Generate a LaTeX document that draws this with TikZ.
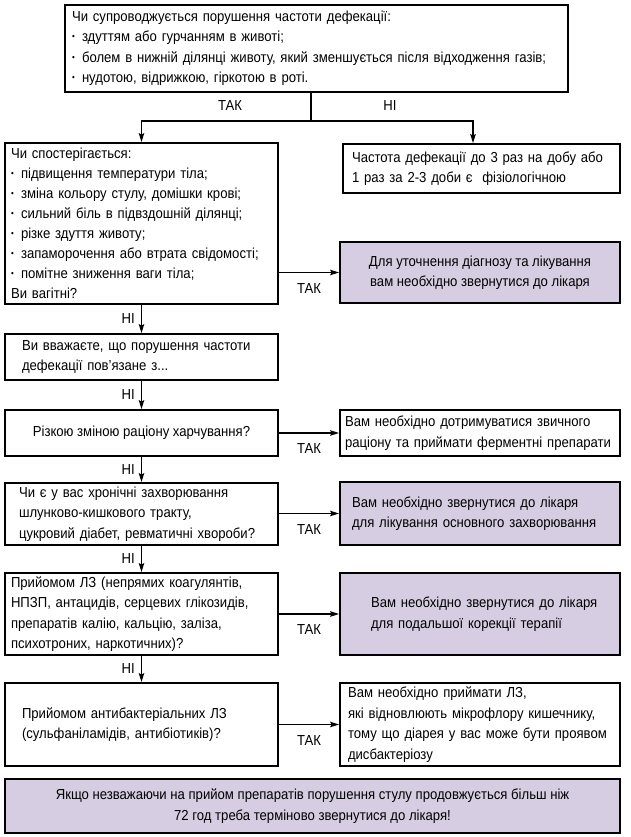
\documentclass[tikz,border=0pt]{standalone}
\usepackage{fontspec}
\setmainfont{Liberation Sans}[FakeStretch=0.905]
\usepackage{graphicx}
\usetikzlibrary{arrows.meta}
\definecolor{lil}{RGB}{214,205,226}
\newcommand\myfs{\fontsize{14.5}{20.5}\selectfont}
\newcommand\ml[1]{\mbox{#1}}
\newcommand\bul{\makebox[10pt][l]{\raisebox{0.15em}{\scalebox{0.6}{•}}}}
\begin{document}
\begin{tikzpicture}[x=1pt,y=-1pt,
 base/.style={draw=black, line width=1.8pt, inner sep=0pt, font=\myfs},
 wbox/.style={base, fill=white},
 pbox/.style={base, fill=lil},
 arr/.style={line width=1.3pt, -{Stealth[length=9pt,width=5.5pt,inset=1.5pt]}},
 ln/.style={line width=1.3pt},
 lab/.style={font=\myfs, inner sep=1pt}]
\useasboundingbox (0,0) rectangle (630,837);
\fill[white] (0,0) rectangle (630,837);

\node[wbox, minimum width=503pt, minimum height=87pt, text width=489pt, align=left] (T) at (316.5,48.5)
 {\ml{Чи супроводжується порушення частоти дефекації:}\\
  \ml{\bul здуттям або гурчанням в животі;}\\
  \ml{\bul болем в нижній ділянці животу, який зменшується після відходження газів;}\\
  \ml{\bul нудотою, відрижкою, гіркотою в роті.}};

\node[wbox, minimum width=273pt, minimum height=161pt, text width=261pt, align=left,
      font=\fontsize{14.5}{20}\selectfont] (L1) at (141.5,223.5)
 {\ml{Чи спостерігається:}\\
  \ml{\bul підвищення температури тіла;}\\
  \ml{\bul зміна кольору стулу, домішки крові;}\\
  \ml{\bul сильний біль в підвздошній ділянці;}\\
  \ml{\bul різке здуття животу;}\\
  \ml{\bul запаморочення або втрата свідомості;}\\
  \ml{\bul помітне зниження ваги тіла;}\\
  \ml{Ви вагітні?}};

\node[wbox, minimum width=277pt, minimum height=49pt, text width=259pt, align=left] (R1) at (481.5,168.5)
 {\ml{Частота дефекації до 3 раз на добу або}\\\ml{1 раз за 2-3 доби є\ \ фізіологічною}};

\node[pbox, minimum width=280pt, minimum height=61pt, align=center] (P1) at (480,272.5)
 {Для уточнення діагнозу та лікування\\вам необхідно звернутися до лікаря};

\node[wbox, minimum width=273pt, minimum height=46pt, text width=239pt, align=left] (L2) at (141.5,357)
 {\ml{Ви вважаєте, що порушення частоти}\\\ml{дефекації пов’язане з...}};

\node[wbox, minimum width=273pt, minimum height=46pt, align=center] (L3) at (141.5,433)
 {Різкою зміною раціону харчування?};

\node[wbox, minimum width=280pt, minimum height=46pt, text width=270pt, align=left] (R3) at (480,433)
 {\ml{Вам необхідно дотримуватися звичного}\\\ml{раціону та приймати ферментні препарати}};

\node[wbox, minimum width=273pt, minimum height=62pt, text width=245pt, align=left] (L4) at (141.5,514)
 {\ml{Чи є у вас хронічні захворювання}\\\ml{шлунково-кишкового тракту,}\\\ml{цукровий діабет, ревматичні хвороби?}};

\node[pbox, minimum width=280pt, minimum height=63pt, text width=256pt, align=left] (P4) at (480,513.5)
 {\ml{Вам необхідно звернутися до лікаря}\\\ml{для лікування основного захворювання}};

\node[wbox, minimum width=273pt, minimum height=82pt, text width=261pt, align=left] (L5) at (141.5,614)
 {\ml{Прийомом ЛЗ (непрямих коагулянтів,}\\\ml{НПЗП, антацидів, серцевих глікозидів,}\\\ml{препаратів калію, кальцію, заліза,}\\\ml{психотроних, наркотичних)?}};

\node[pbox, minimum width=280pt, minimum height=82pt, text width=218pt, align=left] (P5) at (480,614)
 {\ml{Вам необхідно звернутися до лікаря}\\\ml{для подальшої корекції терапії}};

\node[wbox, minimum width=273pt, minimum height=83pt, text width=239pt, align=left] (L6) at (141.5,724.5)
 {\ml{Прийомом антибактеріальних ЛЗ}\\\ml{(сульфаніламідів, антибіотиків)?}};

\node[wbox, minimum width=280pt, minimum height=83pt, text width=264pt, align=left] (R6) at (480,724.5)
 {\ml{Вам необхідно приймати ЛЗ,}\\\ml{які відновлюють мікрофлору кишечнику,}\\\ml{тому що діарея у вас може бути проявом}\\\ml{дисбактеріозу}};

\node[pbox, minimum width=615pt, minimum height=54pt, align=center] (B) at (312.5,806)
 {Якщо незважаючи на прийом препаратів порушення стулу продовжується більш ніж\\72 год треба терміново звернутися до лікаря!};

% top split
\coordinate (J) at ([xshift=-5.5pt,yshift=-28pt]T.south);
\coordinate (JR) at ([xshift=-8.5pt]R1.north);
\draw[ln] (J |- T.south) -- (J);
\draw[arr] (J) -| (L1.north);
\draw[arr] (J) -| (JR);
\node[lab] (tak0) at (230,106) {ТАК};
\node[lab] (ni0) at (390,106) {НІ};

% yes arrows
\draw[arr] (L1.east |- P1.west) -- node[lab, below=9pt] (tak1) {ТАК} (P1.west);
\draw[arr] (L3.east) -- node[lab, below=9pt] (tak3) {ТАК} (L3.east -| R3.west);
\draw[arr] (L4.east |- P4.west) -- node[lab, below=9pt] (tak4) {ТАК} (P4.west);
\draw[arr] (L5.east |- P5.west) -- node[lab, below=9pt] (tak5) {ТАК} (P5.west);
\draw[arr] (L6.east) -- node[lab, below=9pt] (tak6) {ТАК} (L6.east -| R6.west);

% no arrows
\draw[arr] (L1.south) -- node[lab, left=5pt] (ni1) {НІ} (L2.north);
\draw[arr] (L2.south) -- node[lab, left=5pt] (ni2) {НІ} (L3.north);
\draw[arr] (L3.south) -- node[lab, left=5pt] (ni3) {НІ} (L4.north);
\draw[arr] (L4.south) -- node[lab, left=5pt] (ni4) {НІ} (L5.north);
\draw[arr] (L5.south) -- node[lab, left=5pt] (ni5) {НІ} (L6.north);
\end{tikzpicture}
\end{document}
